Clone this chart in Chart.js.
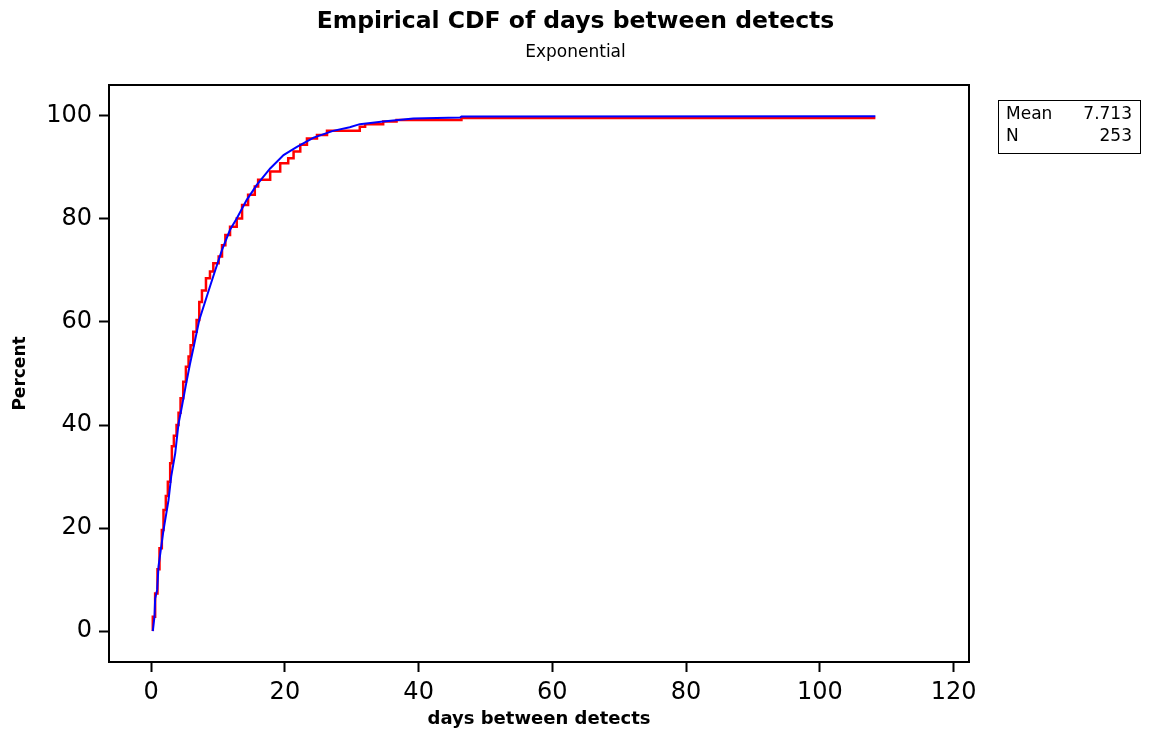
<!DOCTYPE html>
<html>
<head>
<meta charset="utf-8">
<title>Empirical CDF of days between detects</title>
<script src="https://cdn.jsdelivr.net/npm/chart.js@4.4.1/dist/chart.umd.min.js"></script>
<style>
  html, body { margin: 0; padding: 0; background: #fff; }
  #wrap { width: 1151px; height: 736px; position: relative; }
</style>
</head>
<body>
<div id="wrap"><canvas id="chCdf"></canvas></div>
<script>
// empirical CDF (red steps)
var ecdfDays = [0.25, 0.25, 0.6, 0.95, 1.25, 1.6, 1.85, 2.2, 2.5, 2.85, 3.1, 3.4, 3.8, 4.1, 4.4, 4.8,
  5.2, 5.6, 5.9, 6.3, 6.8, 7.2, 7.6, 8.2, 8.8, 9.3, 10.1, 10.6, 11.1, 11.8, 12.8, 13.6, 14.5,
  15.5, 16.0, 17.8, 19.3, 20.5, 21.3, 22.3, 23.3, 24.8, 26.3, 31.2, 32.0, 34.7, 36.7, 46.4, 108.3];
var ecdfPct = [0, 2.8, 7.3, 12.0, 16.1, 19.6, 23.5, 26.2, 29.0, 32.6, 35.9, 37.9, 40.0, 42.4, 45.2, 48.4,
  51.3, 53.3, 55.5, 58.1, 60.4, 63.9, 66.1, 68.5, 69.8, 71.4, 72.7, 74.9, 76.9, 78.5, 80.1, 82.7, 84.7,
  86.3, 87.6, 89.2, 90.8, 91.8, 93.1, 94.4, 95.6, 96.3, 97.1, 97.9, 98.4, 98.9, 99.2, 99.6, 99.6];

// fitted exponential CDF (blue)
var fitDays = [0.25, 0.5, 0.6, 0.9, 1.1, 1.85, 2.6, 3.0, 3.6, 4.1, 4.6, 5.2, 5.8, 6.3, 7.2, 8.8, 9.6,
  10.6, 11.8, 12.8, 14.3, 15.8, 17.8, 19.8, 21.8, 24.3, 27.2, 29.7, 31.2, 34.7, 39.2, 46.2, 46.4, 108.3];
var fitPct = [0, 2.8, 6.3, 8.0, 12.5, 19.6, 25.4, 30.0, 34.5, 40.3, 43.6, 47.8, 51.8, 54.8, 60.4, 66.9, 70.1,
  74.0, 77.9, 80.1, 83.7, 86.6, 89.8, 92.4, 94.0, 95.8, 97.1, 97.8, 98.4, 98.9, 99.5, 99.7, 99.9, 99.95];

var xTicks = [0, 20, 40, 60, 80, 100, 120];
var yTicks = [0, 20, 40, 60, 80, 100];
var statLabels = ["Mean", "N"];
var statValues = ["7.713", "253"];

var fontFam = "'DejaVu Sans', sans-serif";

function toPoints(xs, ys) {
  return xs.map(function (x, i) { return { x: x, y: ys[i] }; });
}

// frame on top/right + stats box
var extras = {
  id: "extras",
  afterDraw: function (chart) {
    var ctx = chart.ctx;
    var a = chart.chartArea;
    ctx.save();
    ctx.strokeStyle = "#000";
    ctx.lineWidth = 2;
    ctx.strokeRect(a.left, a.top, a.right - a.left, a.bottom - a.top);

    // stats box
    var bx = 998, by = 100, bw = 142, bh = 53;
    ctx.lineWidth = 1;
    ctx.strokeRect(bx + 0.5, by + 0.5, bw, bh);
    ctx.fillStyle = "#000";
    ctx.font = "17px " + fontFam;
    ctx.textBaseline = "middle";
    for (var i = 0; i < statLabels.length; i++) {
      var ty = by + 15 + i * 22;
      ctx.textAlign = "left";
      ctx.fillText(statLabels[i], bx + 8, ty);
      ctx.textAlign = "right";
      ctx.fillText(statValues[i], bx + bw - 8, ty);
    }
    ctx.restore();
  }
};

new Chart(document.getElementById("chCdf"), {
  type: "scatter",
  data: {
    datasets: [
      {
        label: "Fitted",
        data: toPoints(fitDays, fitPct),
        showLine: true,
        borderColor: "#0000ff",
        borderWidth: 2,
        pointRadius: 0,
        tension: 0,
        order: 0
      },
      {
        label: "Empirical",
        data: toPoints(ecdfDays, ecdfPct),
        showLine: true,
        stepped: "before",
        borderColor: "#ff0000",
        borderWidth: 2.5,
        pointRadius: 0,
        order: 1
      }
    ]
  },
  options: {
    responsive: true,
    maintainAspectRatio: false,
    animation: false,
    devicePixelRatio: 1,
    layout: { padding: 0 },
    plugins: {
      legend: { display: false },
      tooltip: { enabled: false },
      title: {
        display: true,
        text: "Empirical CDF of days between detects",
        color: "#000",
        font: { family: fontFam, size: 23.5, weight: "bold", lineHeight: 1.2 },
        padding: { top: 8, bottom: 6 }
      },
      subtitle: {
        display: true,
        text: "Exponential",
        color: "#000",
        font: { family: fontFam, size: 17, lineHeight: 1.2 },
        padding: { top: 0, bottom: 22.4 }
      }
    },
    scales: {
      x: {
        type: "linear",
        min: -6.3,
        max: 122.3,
        afterFit: function (s) { s.height = 74; },
        afterBuildTicks: function (s) { s.ticks = xTicks.map(function (v) { return { value: v }; }); },
        grid: { drawOnChartArea: false, drawTicks: true, tickLength: 10, color: "#000", tickWidth: 2 },
        border: { display: true, color: "#000", width: 2 },
        ticks: { color: "#000", font: { family: fontFam, size: 24 }, padding: 6, maxRotation: 0 },
        title: {
          display: true,
          text: "days between detects",
          color: "#000",
          font: { family: fontFam, size: 18, weight: "bold", lineHeight: 1.2 },
          padding: { top: 0, bottom: 6 }
        }
      },
      y: {
        type: "linear",
        min: -6,
        max: 106,
        afterFit: function (s) { s.width = 109; },
        afterBuildTicks: function (s) { s.ticks = yTicks.map(function (v) { return { value: v }; }); },
        grid: { drawOnChartArea: false, drawTicks: true, tickLength: 10, color: "#000", tickWidth: 2 },
        border: { display: true, color: "#000", width: 2 },
        ticks: { color: "#000", font: { family: fontFam, size: 24 }, padding: 7 },
        title: {
          display: true,
          text: "Percent",
          color: "#000",
          font: { family: fontFam, size: 17, weight: "bold", lineHeight: 1.2 },
          padding: { top: 10, bottom: 0 }
        }
      },
      // empty right-hand strip that holds the stats box
      side: {
        type: "linear",
        position: "right",
        display: true,
        afterFit: function (s) { s.width = 182; },
        grid: { display: false },
        border: { display: false },
        ticks: { display: false }
      }
    }
  },
  plugins: [extras]
});
</script>
</body>
</html>
